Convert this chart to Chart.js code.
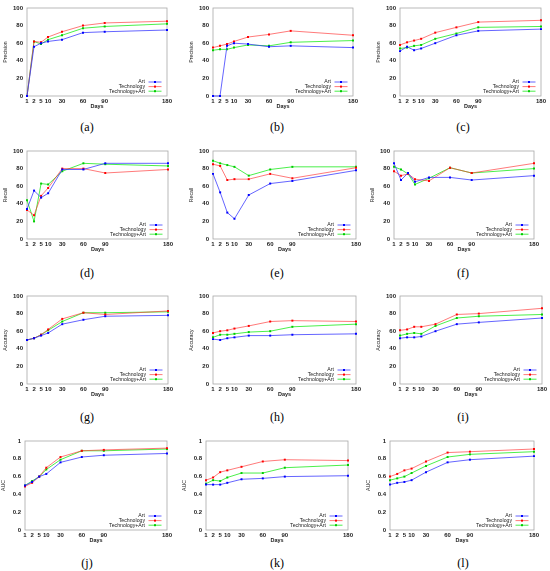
<!DOCTYPE html>
<html><head><meta charset="utf-8">
<script src="https://cdn.jsdelivr.net/npm/chart.js@4.4.1/dist/chart.umd.min.js"></script>
<style>
html,body{margin:0;padding:0;background:#fff;}
#page{position:relative;width:550px;height:571px;overflow:hidden;background:#fff;}
canvas{position:absolute;}
.cap{position:absolute;font-family:'Liberation Serif','DejaVu Serif',serif;font-size:12px;color:#000;transform:translate(-50%,-50%);white-space:nowrap;-webkit-font-smoothing:antialiased;}
</style></head><body><div id="page"></div>
<script>
// ---------- data ----------
const days = [1, 2, 5, 10, 30, 60, 90, 180];
const seriesNames = ['Art', 'Technology', 'Technology+Art'];
const percentTicks = [0, 20, 40, 60, 80, 100];
const aucTicks = [0, 0.2, 0.4, 0.6, 0.8, 1];

// Precision
const a_art  = [0, 56, 60, 62, 64, 72, 73, 75];
const a_tech = [0, 62, 61, 67, 73, 80, 83, 85];
const a_ta   = [0, 62, 59, 64, 69, 77, 79, 82];
const b_art  = [0, 0, 57, 60, 59, 56, 57, 55];
const b_tech = [55, 57, 59, 62, 67, 70, 74, 69];
const b_ta   = [52, 53, 53, 55, 58, 57, 61, 63];
const c_art  = [51, 56, 52, 54, 60, 69, 74, 76];
const c_tech = [58, 61, 63, 65, 72, 78, 84, 86];
const c_ta   = [54, 55, 57, 58, 65, 71, 78, 79];
// Recall
const d_art  = [34, 55, 47, 52, 79, 79, 86, 86];
const d_tech = [33, 27, 49, 58, 80, 80, 75, 79];
const d_ta   = [44, 20, 63, 62, 77, 86, 85, 83];
const e_art  = [74, 53, 30, 23, 50, 63, 66, 78];
const e_tech = [85, 83, 67, 68, 68, 74, 69, 81];
const e_ta   = [89, 86, 84, 82, 72, 79, 82, 82];
const f_art  = [86, 67, 75, 65, 70, 70, 67, 72];
const f_tech = [77, 72, 74, 68, 66, 81, 75, 86];
const f_ta   = [82, 79, 74, 62, 69, 81, 75, 80];
// Accuracy
const g_art  = [50, 52, 55, 58, 68, 73, 77, 78];
const g_tech = [50, 52, 56, 62, 74, 81, 79, 83];
const g_ta   = [50, 52, 56, 61, 71, 81, 81, 82];
const h_art  = [51, 50, 52, 53, 55, 55, 56, 57];
const h_tech = [58, 60, 61, 63, 66, 71, 72, 71];
const h_ta   = [53, 56, 56, 57, 59, 60, 65, 68];
const i_art  = [52, 53, 53, 54, 60, 68, 70, 75];
const i_tech = [61, 62, 65, 65, 68, 79, 80, 86];
const i_ta   = [55, 57, 58, 57, 66, 75, 77, 79];
// AUC
const j_art  = [0.50, 0.54, 0.60, 0.63, 0.76, 0.82, 0.84, 0.86];
const j_tech = [0.49, 0.53, 0.60, 0.70, 0.82, 0.89, 0.90, 0.92];
const j_ta   = [0.50, 0.55, 0.60, 0.68, 0.79, 0.89, 0.89, 0.91];
const k_art  = [0.51, 0.51, 0.51, 0.53, 0.57, 0.58, 0.60, 0.61];
const k_tech = [0.56, 0.59, 0.65, 0.67, 0.71, 0.77, 0.79, 0.78];
const k_ta   = [0.52, 0.56, 0.55, 0.59, 0.64, 0.64, 0.70, 0.73];
const l_art  = [0.51, 0.53, 0.54, 0.56, 0.65, 0.76, 0.79, 0.83];
const l_tech = [0.60, 0.63, 0.67, 0.69, 0.77, 0.87, 0.88, 0.91];
const l_ta   = [0.56, 0.58, 0.60, 0.64, 0.72, 0.82, 0.85, 0.88];

// ---------- layout / style ----------
const panels = [
  {id:'a', metric:'Precision', s:[a_art,a_tech,a_ta], box:[27,8,167,96],    cap:[87,127]},
  {id:'b', metric:'Precision', s:[b_art,b_tech,b_ta], box:[213,8,353,96],   cap:[277,127]},
  {id:'c', metric:'Precision', s:[c_art,c_tech,c_ta], box:[400,8,541,96],   cap:[463,127]},
  {id:'d', metric:'Recall',    s:[d_art,d_tech,d_ta], box:[27,151,168,239], cap:[87,273]},
  {id:'e', metric:'Recall',    s:[e_art,e_tech,e_ta], box:[213,151,356,239],cap:[277,273]},
  {id:'f', metric:'Recall',    s:[f_art,f_tech,f_ta], box:[394,151,534,239],cap:[463,273]},
  {id:'g', metric:'Accuracy',  s:[g_art,g_tech,g_ta], box:[27,296,168,384], cap:[87,417]},
  {id:'h', metric:'Accuracy',  s:[h_art,h_tech,h_ta], box:[213,296,356,384],cap:[277,417]},
  {id:'i', metric:'Accuracy',  s:[i_art,i_tech,i_ta], box:[400,296,542,384],cap:[463,417]},
  {id:'j', metric:'AUC',       s:[j_art,j_tech,j_ta], box:[25,441,167,530], cap:[87,563]},
  {id:'k', metric:'AUC',       s:[k_art,k_tech,k_ta], box:[206,441,348,530],cap:[277,563]},
  {id:'l', metric:'AUC',       s:[l_art,l_tech,l_ta], box:[390,441,534,530],cap:[463,563]}
];
const lineColors  = ['rgba(50,50,255,0.75)', 'rgba(255,50,50,0.65)', 'rgba(30,235,30,0.8)'];
const pointColors = ['#0000ff', '#ff0000', '#00cc00'];

// the original day axis is not linear; map each day to its axis slot
const daySlot = {1:0, 2:1, 5:2, 10:3, 30:5, 60:8, 90:11.1, 180:20};
const xOf = d => daySlot[d];

const FONT = "'Liberation Sans','Arial',sans-serif";
const PADL = 27, PADT = 8, PADR = 8, XH = 14;

const boxPlugin = {
  id:'box',
  beforeDatasetsDraw(chart){
    const {ctx, chartArea:a} = chart;
    ctx.save();
    ctx.strokeStyle = '#a8a8a8';
    ctx.lineWidth = 0.8;
    ctx.strokeRect(a.left, a.top, a.right - a.left, a.bottom - a.top);
    ctx.restore();
  }
};
const legendPlugin = {
  id:'insideLegend',
  afterDatasetsDraw(chart){
    const {ctx, chartArea:a} = chart;
    ctx.save();
    ctx.font = "5.2px " + FONT;
    ctx.textAlign = 'right';
    ctx.textBaseline = 'middle';
    chart.data.datasets.forEach((ds, k) => {
      const y = a.bottom - 14 + k * 4.6;
      ctx.fillStyle = '#222';
      ctx.fillText(ds.label, a.right - 22, y);
      ctx.strokeStyle = ds.borderColor;
      ctx.lineWidth = 1;
      ctx.beginPath();
      ctx.moveTo(a.right - 18.5, y);
      ctx.lineTo(a.right - 5.5, y);
      ctx.stroke();
      ctx.fillStyle = ds.pointBackgroundColor;
      ctx.fillRect(a.right - 13, y - 1, 2, 2);
    });
    ctx.restore();
  }
};

const page = document.getElementById('page');
panels.forEach(p => {
  const [l, t, r, b] = p.box;
  const w = (r - l) + PADL + PADR;
  const h = (b - t) + PADT + XH;
  const cv = document.createElement('canvas');
  cv.width = w; cv.height = h;
  cv.style.width = w + 'px'; cv.style.height = h + 'px';
  cv.style.left = (l - PADL) + 'px';
  cv.style.top = (t - PADT) + 'px';
  page.appendChild(cv);

  const cap = document.createElement('div');
  cap.className = 'cap';
  cap.textContent = '(' + p.id + ')';
  cap.style.left = p.cap[0] + 'px';
  cap.style.top = p.cap[1] + 'px';
  page.appendChild(cap);

  const isAuc = p.metric === 'AUC';
  const yTicks = isAuc ? aucTicks : percentTicks;

  new Chart(cv, {
    type:'line',
    data:{
      datasets: p.s.map((vals, k) => ({
        label: seriesNames[k],
        data: days.map((d, i) => ({x: xOf(d), y: vals[i]})),
        borderColor: lineColors[k],
        backgroundColor: pointColors[k],
        pointBackgroundColor: pointColors[k],
        pointBorderColor: pointColors[k],
        pointBorderWidth: 0,
        pointStyle: 'rect',
        pointRadius: 1.4,
        borderWidth: 1,
        tension: 0,
        clip: 4
      }))
    },
    options:{
      responsive:false, animation:false, events:[],
      devicePixelRatio: window.devicePixelRatio || 1,
      layout:{padding:{left:0, top:PADT, right:PADR, bottom:0}},
      plugins:{legend:{display:false}, tooltip:{enabled:false}},
      scales:{
        x:{
          type:'linear', min:xOf(days[0]), max:xOf(days[days.length-1]),
          grid:{display:false, drawTicks:false}, border:{display:false},
          afterBuildTicks: s => { s.ticks = days.map(d => ({value: xOf(d)})); },
          afterFit: s => { s.height = XH; },
          ticks:{padding:2, autoSkip:false, maxRotation:0, color:'#222',
                 font:{family:FONT, size:6, weight:'bold'},
                 callback:(v, i) => String(days[i])},
          title:{display:true, text:'Days', color:'#222', padding:0,
                 font:{family:FONT, size:5.5, weight:'bold'}}
        },
        y:{
          type:'linear', min:yTicks[0], max:yTicks[yTicks.length-1],
          grid:{display:false, drawTicks:false}, border:{display:false},
          afterBuildTicks: s => { s.ticks = yTicks.map(v => ({value:v})); },
          afterFit: s => { s.width = PADL; },
          ticks:{padding:4, color:'#222', font:{family:FONT, size:6, weight:'bold'},
                 callback:(v, i) => String(yTicks[i])},
          title:{display:true, text:p.metric, color:'#222', padding:{top:2, bottom:0},
                 font:{family:FONT, size:5.2}}
        }
      }
    },
    plugins:[boxPlugin, legendPlugin]
  });
});
</script></body></html>
